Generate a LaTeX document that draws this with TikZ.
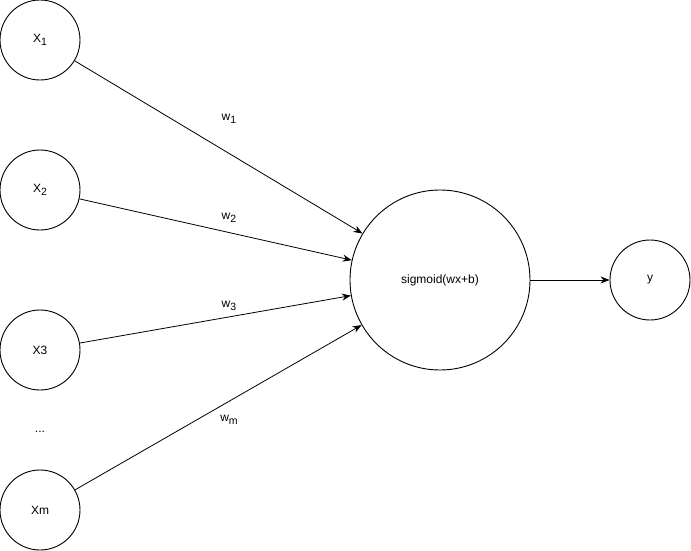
\documentclass[tikz,border=0pt]{standalone}
\usepackage{fontspec}
\setmainfont{Liberation Sans}
\usetikzlibrary{arrows.meta}
% lowered small index, as in X_1 and w_1
\newcommand\lowidx[1]{\raisebox{-0.4ex}{\fontsize{10.5}{10.5}\selectfont #1}}
\begin{document}
\begin{tikzpicture}[x=1pt,y=-1pt,
  every node/.style={font=\fontsize{12}{14}\selectfont},
  unit/.style={draw, circle, line width=0.9pt, inner sep=0pt, minimum size=80pt},
  bigunit/.style={unit, minimum size=180pt},
  wire/.style={line width=0.8pt, -{Stealth[length=9pt,width=7pt]}},
  tag/.style={inner sep=1pt}]
\useasboundingbox (0,0) rectangle (691,551);

% inputs
\node[unit] (x1) at (40,40)  {X\lowidx{1}};
\node[unit] (x2) at (40,190) {X\lowidx{2}};
\node[unit] (x3) at (40,350) {X3};
\node[unit] (xm) at (40,510) {Xm};
\node[tag]  (dots) at (40,432) {...};

% neuron and output
\node[bigunit] (sig) at (440,280) {sigmoid(wx+b)};
\node[unit] (y) at (650,280) {y};

% weighted connections
\draw[wire] (x1) -- (sig);
\draw[wire] (x2) -- (sig);
\draw[wire] (x3) -- (sig);
\draw[wire] (xm) -- (sig);
\draw[wire] (sig) -- (y);

% weight labels
\node[tag] (w1) at (229,119) {w\lowidx{1}};
\node[tag] (w2) at (229,218) {w\lowidx{2}};
\node[tag] (w3) at (229,306) {w\lowidx{3}};
\node[tag] (wm) at (229,420) {w\lowidx{m}};
\end{tikzpicture}
\end{document}
